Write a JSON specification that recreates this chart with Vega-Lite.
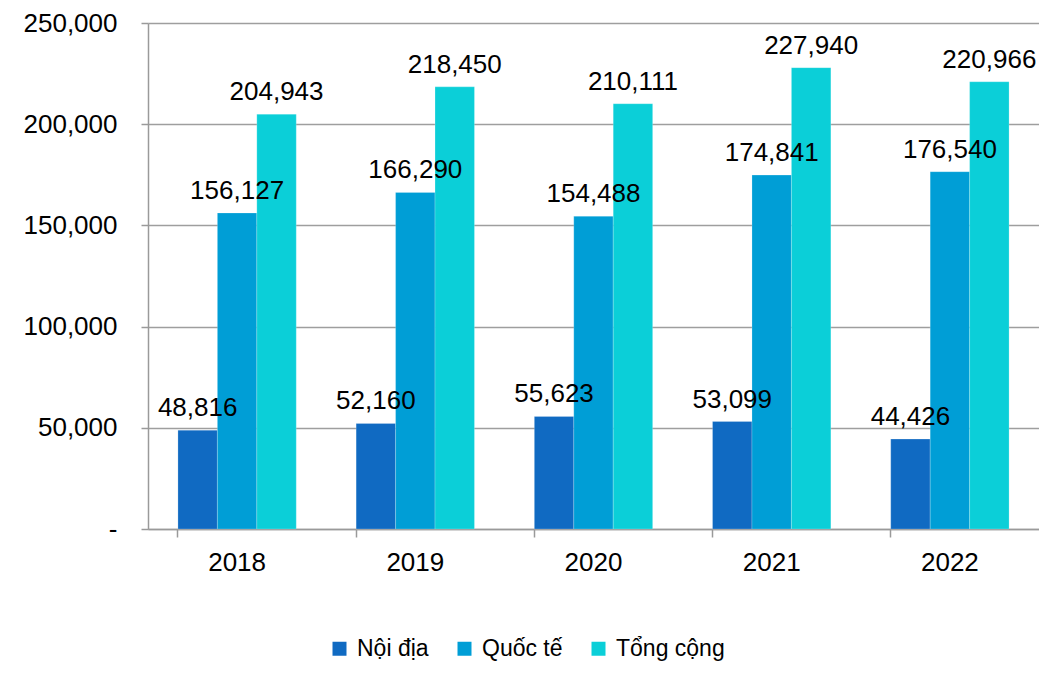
{
  "$schema": "https://vega.github.io/schema/vega-lite/v6.json",
  "width": 891,
  "height": 506,
  "autosize": {"type": "none"},
  "padding": {"left": 148, "top": 23, "right": 0, "bottom": 153},
  "background": "white",
  "config": {
    "view": {"stroke": null},
    "font": "Liberation Sans",
    "text": {"font": "Liberation Sans"}
  },
  "data": {
    "values": [
      {"nam": "2018", "loai": "Nội địa", "luong": 48816},
      {"nam": "2018", "loai": "Quốc tế", "luong": 156127},
      {"nam": "2018", "loai": "Tổng cộng", "luong": 204943},
      {"nam": "2019", "loai": "Nội địa", "luong": 52160},
      {"nam": "2019", "loai": "Quốc tế", "luong": 166290},
      {"nam": "2019", "loai": "Tổng cộng", "luong": 218450},
      {"nam": "2020", "loai": "Nội địa", "luong": 55623},
      {"nam": "2020", "loai": "Quốc tế", "luong": 154488},
      {"nam": "2020", "loai": "Tổng cộng", "luong": 210111},
      {"nam": "2021", "loai": "Nội địa", "luong": 53099},
      {"nam": "2021", "loai": "Quốc tế", "luong": 174841},
      {"nam": "2021", "loai": "Tổng cộng", "luong": 227940},
      {"nam": "2022", "loai": "Nội địa", "luong": 44426},
      {"nam": "2022", "loai": "Quốc tế", "luong": 176540},
      {"nam": "2022", "loai": "Tổng cộng", "luong": 220966}
    ]
  },
  "encoding": {
    "x": {
      "field": "nam",
      "type": "nominal",
      "scale": {"paddingInner": 0.336, "paddingOuter": 0.168},
      "axis": {
        "title": null,
        "labelAngle": 0,
        "labelFont": "Liberation Sans",
        "labelFontSize": 26,
        "labelColor": "#000000",
        "labelPadding": 12,
        "bandPosition": 0,
        "tickSize": 8,
        "tickColor": "#9a9a9a",
        "tickWidth": 1.5,
        "domainColor": "#9a9a9a",
        "domainWidth": 1.5,
        "grid": false
      }
    },
    "xOffset": {
      "field": "loai",
      "type": "nominal",
      "sort": ["Nội địa", "Quốc tế", "Tổng cộng"],
      "scale": {"paddingInner": 0, "paddingOuter": 0}
    },
    "y": {
      "field": "luong",
      "type": "quantitative",
      "scale": {"domain": [0, 250000], "nice": false},
      "axis": {
        "title": null,
        "values": [0, 50000, 100000, 150000, 200000, 250000],
        "labelExpr": "datum.value === 0 ? '-' : format(datum.value, ',')",
        "labelFont": "Liberation Sans",
        "labelFontSize": 26,
        "labelColor": "#000000",
        "labelPadding": 24,
        "tickSize": 7,
        "tickColor": "#9a9a9a",
        "tickWidth": 1.5,
        "domainColor": "#9a9a9a",
        "domainWidth": 1.5,
        "grid": true,
        "gridColor": "#9e9e9e",
        "gridWidth": 1.4,
        "encode": {
          "labels": {
            "update": {"dx": {"signal": "datum.value === 0 ? -11 : 0"}}
          }
        }
      }
    }
  },
  "layer": [
    {
      "mark": {"type": "bar", "stroke": "#ffffff", "strokeOpacity": 0.35, "strokeWidth": 0.6},
      "encoding": {
        "color": {
          "field": "loai",
          "type": "nominal",
          "sort": ["Nội địa", "Quốc tế", "Tổng cộng"],
          "scale": {
            "domain": ["Nội địa", "Quốc tế", "Tổng cộng"],
            "range": ["#106AC2", "#009ED6", "#0BCFD8"]
          },
          "legend": {
            "title": null,
            "orient": "none",
            "direction": "horizontal",
            "legendX": 180,
            "legendY": 614,
            "symbolType": "square",
            "symbolSize": 196,
            "symbolStrokeWidth": 0,
            "symbolOpacity": 1,
            "labelFont": "Liberation Sans",
            "labelFontSize": 23,
            "labelColor": "#000000",
            "labelOffset": 6,
            "columnPadding": 24
          }
        }
      }
    },
    {
      "mark": {
        "type": "text",
        "baseline": "alphabetic",
        "align": "center",
        "dy": -14,
        "fontSize": 26,
        "font": "Liberation Sans",
        "color": "#000000"
      },
      "encoding": {
        "text": {"field": "luong", "type": "quantitative", "format": ","}
      }
    }
  ]
}
